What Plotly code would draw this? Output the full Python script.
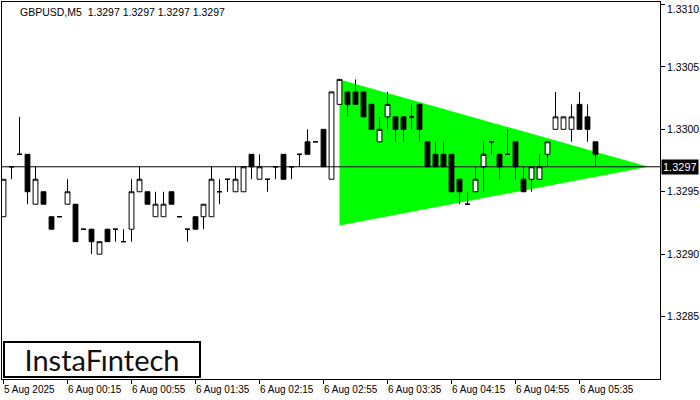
import plotly.graph_objects as go

# ---- data ----
title_text = "GBPUSD,M5  1.3297 1.3297 1.3297 1.3297"
bar_index = list(range(75))
opens = [1.3293, 1.3297, 1.3298, 1.3298, 1.3294, 1.3295, 1.3293, 1.3293, 1.3294, 1.3294,
         1.3292, 1.3292, 1.3290, 1.3292, 1.3292, 1.3291, 1.3292, 1.3295, 1.3295, 1.3293,
         1.3293, 1.3295, 1.3293, 1.3292, 1.3293, 1.3293, 1.3293, 1.3295, 1.3296, 1.3295,
         1.3295, 1.3298, 1.3296, 1.3296, 1.3297, 1.3298, 1.3297, 1.3298, 1.3299, 1.3299,
         1.3300, 1.3296, 1.3302, 1.3303, 1.3303, 1.3303, 1.3302, 1.3299, 1.3301, 1.3301,
         1.3301, 1.3301, 1.3302, 1.3299, 1.3298, 1.3298, 1.3298, 1.3296, 1.3294, 1.3295,
         1.3297, 1.3299, 1.3298, 1.3298, 1.3299, 1.3296, 1.3296, 1.3296, 1.3298, 1.3300,
         1.3300, 1.3300, 1.3302, 1.3301, 1.3299]
highs = [1.3296, 1.3297, 1.3301, 1.3298, 1.3297, 1.3295, 1.3293, 1.3293, 1.3296, 1.3294,
         1.3292, 1.3292, 1.3291, 1.3292, 1.3292, 1.3292, 1.3296, 1.3297, 1.3295, 1.3295,
         1.3295, 1.3295, 1.3293, 1.3292, 1.3293, 1.3294, 1.3297, 1.3296, 1.3296, 1.3297,
         1.3297, 1.3298, 1.3298, 1.3296, 1.3297, 1.3298, 1.3297, 1.3298, 1.3300, 1.3299,
         1.3300, 1.3303, 1.3304, 1.3303, 1.3304, 1.3303, 1.3302, 1.3301, 1.3303, 1.3301,
         1.3301, 1.3302, 1.3302, 1.3299, 1.3299, 1.3299, 1.3298, 1.3296, 1.3295, 1.3297,
         1.3299, 1.3299, 1.3298, 1.3300, 1.3299, 1.3297, 1.3297, 1.3298, 1.3299, 1.3303,
         1.3301, 1.3302, 1.3303, 1.3302, 1.3299]
lows = [1.3293, 1.3296, 1.3298, 1.3294, 1.3294, 1.3294, 1.3292, 1.3293, 1.3294, 1.3291,
        1.3292, 1.3290, 1.3290, 1.3291, 1.3291, 1.3291, 1.3291, 1.3295, 1.3294, 1.3293,
        1.3293, 1.3294, 1.3293, 1.3291, 1.3292, 1.3292, 1.3293, 1.3294, 1.3295, 1.3295,
        1.3295, 1.3296, 1.3296, 1.3295, 1.3296, 1.3296, 1.3296, 1.3297, 1.3298, 1.3299,
        1.3297, 1.3296, 1.3302, 1.3301, 1.3302, 1.3301, 1.3300, 1.3299, 1.3300, 1.3299,
        1.3299, 1.3300, 1.3299, 1.3297, 1.3297, 1.3297, 1.3295, 1.3294, 1.3294, 1.3295,
        1.3295, 1.3298, 1.3296, 1.3298, 1.3296, 1.3295, 1.3295, 1.3296, 1.3297, 1.3300,
        1.3300, 1.3299, 1.3300, 1.3299, 1.3297]
closes = [1.3296, 1.3297, 1.3298, 1.3295, 1.3296, 1.3294, 1.3292, 1.3293, 1.3295, 1.3291,
          1.3292, 1.3291, 1.3291, 1.3291, 1.3292, 1.3291, 1.3295, 1.3296, 1.3294, 1.3294,
          1.3294, 1.3294, 1.3293, 1.3292, 1.3292, 1.3294, 1.3296, 1.3295, 1.3296, 1.3296,
          1.3297, 1.3297, 1.3297, 1.3296, 1.3297, 1.3296, 1.3297, 1.3298, 1.3298, 1.3299,
          1.3297, 1.3303, 1.3304, 1.3302, 1.3302, 1.3301, 1.3300, 1.3300, 1.3302, 1.3300,
          1.3300, 1.3301, 1.3300, 1.3297, 1.3297, 1.3297, 1.3295, 1.3295, 1.3294, 1.3296,
          1.3298, 1.3299, 1.3297, 1.3298, 1.3297, 1.3295, 1.3297, 1.3297, 1.3299, 1.3301,
          1.3301, 1.3301, 1.3300, 1.3300, 1.3298]

x_tick_bars = [0, 8, 16, 24, 32, 40, 48, 56, 64, 72]
x_tick_labels = ["5 Aug 2025", "6 Aug 00:15", "6 Aug 00:55", "6 Aug 01:35", "6 Aug 02:15",
                 "6 Aug 02:55", "6 Aug 03:35", "6 Aug 04:15", "6 Aug 04:55", "6 Aug 05:35"]
y_tick_vals = [1.3285, 1.3290, 1.3295, 1.3300, 1.3305, 1.3310]
y_tick_labels = ["1.3285", "1.3290", "1.3295", "1.3300", "1.3305", "1.3310"]

last_price = 1.3297
pattern_x = [42, 80.6, 42]
pattern_y = [1.3304, 1.3297, 1.32923]

x_range = [-0.19, 82.06]
y_range = [1.32800, 1.33102]

FONT = "Liberation Sans"

fig = go.Figure()

# triangle pattern (behind candles) as a below-layer shape
tri_path = "M {},{} L {},{} L {},{} Z".format(pattern_x[0], pattern_y[0],
                                              pattern_x[1], pattern_y[1],
                                              pattern_x[2], pattern_y[2])
fig.add_shape(type="path", path=tri_path, xref="x", yref="y", layer="below",
              fillcolor="#00FF00", line=dict(width=0))

fig.add_trace(go.Candlestick(
    x=bar_index, open=opens, high=highs, low=lows, close=closes,
    increasing=dict(fillcolor="white", line=dict(color="black", width=1)),
    decreasing=dict(fillcolor="black", line=dict(color="black", width=1)),
    whiskerwidth=0, showlegend=False, hoverinfo="skip"))

# last price line (above candles)
fig.add_trace(go.Scatter(
    x=[x_range[0], x_range[1]], y=[last_price, last_price], mode="lines",
    line=dict(color="black", width=1), hoverinfo="skip", showlegend=False))

annotations = []
for b, t in zip(x_tick_bars, x_tick_labels):
    annotations.append(dict(x=b, xref="x", y=0, yref="paper", yshift=-3,
                            text=t, showarrow=False, xanchor="left", yanchor="top",
                            xshift=-2,
                            font=dict(family=FONT, size=10, color="black")))
# the top price label sits right at the edge: place it as a top-anchored text
annotations.append(dict(x=1, xref="paper", y=1, yref="paper", xshift=5, yshift=1,
                        text=y_tick_labels[-1], showarrow=False, xanchor="left", yanchor="top",
                        font=dict(family=FONT, size=10.5, color="black")))
annotations.append(dict(x=1, xref="paper", y=last_price, yref="y", xshift=1,
                        text="1.3297", showarrow=False, xanchor="left", yanchor="middle",
                        bgcolor="black", borderpad=1,
                        font=dict(family=FONT, size=11, color="white")))
annotations.append(dict(x=0, xref="paper", y=1, yref="paper", xshift=16, yshift=-2,
                        text=title_text, showarrow=False, xanchor="left", yanchor="top",
                        font=dict(family=FONT, size=10.5, color="black")))
annotations.append(dict(x=0, xref="paper", y=0, yref="paper", xshift=1, yshift=1,
                        text="InstaF\u0131ntech", showarrow=False, xanchor="left", yanchor="bottom",
                        width=194, height=33, align="center",
                        bordercolor="black", borderwidth=2, borderpad=0, bgcolor="white",
                        font=dict(family="Lato", size=29, color="#111111")))

fig.update_layout(
    width=700, height=400,
    margin=dict(l=2, r=40, t=2, b=21, autoexpand=False),
    paper_bgcolor="white", plot_bgcolor="white",
    boxgap=0.4, boxgroupgap=0,
    annotations=annotations,
    xaxis=dict(range=x_range, rangeslider=dict(visible=False), showgrid=False, zeroline=False,
               automargin=False,
               tickvals=x_tick_bars, ticktext=[""] * len(x_tick_bars), ticks="outside", ticklen=4,
               tickcolor="black", showline=True, linecolor="black", linewidth=1, mirror=True),
    yaxis=dict(range=y_range, side="right", showgrid=False, zeroline=False,
               automargin=False,
               tickvals=y_tick_vals, ticktext=y_tick_labels[:-1] + [""], ticks="outside", ticklen=4,
               tickcolor="black", tickfont=dict(family=FONT, size=10.5, color="black"),
               showline=True, linecolor="black", linewidth=1, mirror=True),
)

fig.write_html("out.html", config={"displayModeBar": False},
               post_script="document.body.style.margin='0';document.body.style.overflow='hidden';")
